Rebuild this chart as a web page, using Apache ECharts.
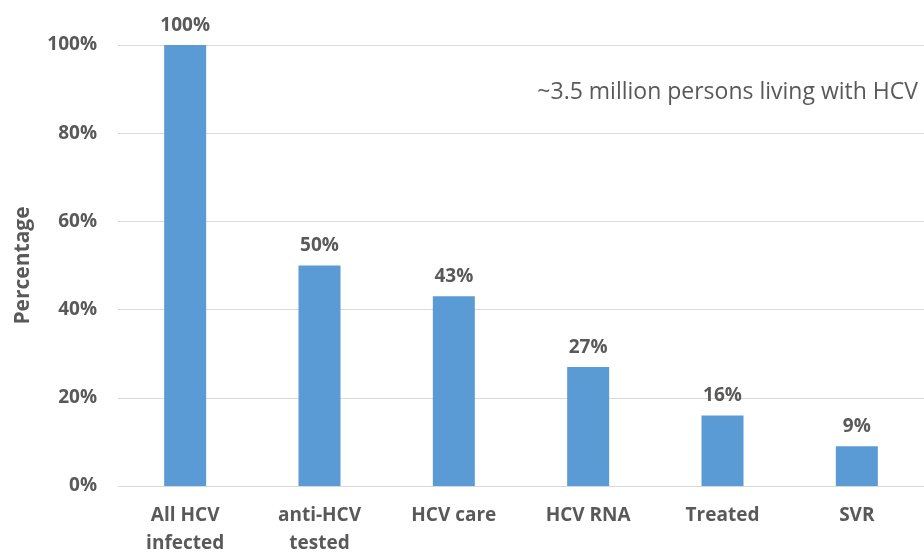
<!DOCTYPE html>
<html>
<head>
<meta charset="utf-8">
<script src="https://cdn.jsdelivr.net/npm/echarts@6/dist/echarts.min.js"></script>
<style>
  html, body { margin: 0; padding: 0; background: #fff; }
  #main { width: 924px; height: 558px; }
</style>
</head>
<body>
<div id="main"></div>
<script>
// 数据
var categories = ['All HCV\ninfected', 'anti-HCV\ntested', 'HCV care', 'HCV RNA', 'Treated', 'SVR'];
var percentValues = [100, 50, 43, 27, 16, 9];
var yTicks = [0, 20, 40, 60, 80, 100];

var textColor = '#595959';
var chart = echarts.init(document.getElementById('main'));

var option = {
  animation: false,
  grid: { left: 118, right: 0, top: 45, bottom: 72, outerBoundsMode: 'none' },
  xAxis: {
    type: 'category',
    data: categories,
    axisLine: { lineStyle: { color: '#d9d9d9', width: 1 } },
    axisTick: { show: false },
    axisLabel: {
      color: textColor,
      fontFamily: 'Open Sans',
      fontWeight: 'bold',
      fontSize: 19,
      lineHeight: 28,
      margin: 16
    }
  },
  yAxis: {
    type: 'value',
    min: yTicks[0],
    max: yTicks[yTicks.length - 1],
    interval: 20,
    name: 'Percentage',
    nameLocation: 'middle',
    nameGap: 84,
    nameTextStyle: {
      color: textColor,
      fontFamily: 'Open Sans',
      fontWeight: 'bold',
      fontSize: 21
    },
    axisLine: { show: false },
    axisTick: { show: false },
    splitLine: { lineStyle: { color: '#d9d9d9', width: 1 } },
    axisLabel: {
      color: textColor,
      fontFamily: 'Open Sans',
      fontWeight: 'bold',
      fontSize: 19,
      margin: 21,
      formatter: '{value}%'
    }
  },
  series: [
    {
      type: 'bar',
      data: percentValues,
      barWidth: 42,
      itemStyle: { color: '#5b9bd5' },
      label: {
        show: true,
        position: 'top',
        distance: 10,
        color: textColor,
        fontFamily: 'Open Sans',
        fontWeight: 'bold',
        fontSize: 19,
        formatter: '{c}%'
      }
    }
  ],
  graphic: [
    {
      type: 'text',
      right: 6,
      top: 81,
      style: {
        text: '~3.5 million persons living with HCV',
        fill: textColor,
        font: '23px "Open Sans"'
      }
    }
  ]
};

chart.setOption(option);
</script>
</body>
</html>
